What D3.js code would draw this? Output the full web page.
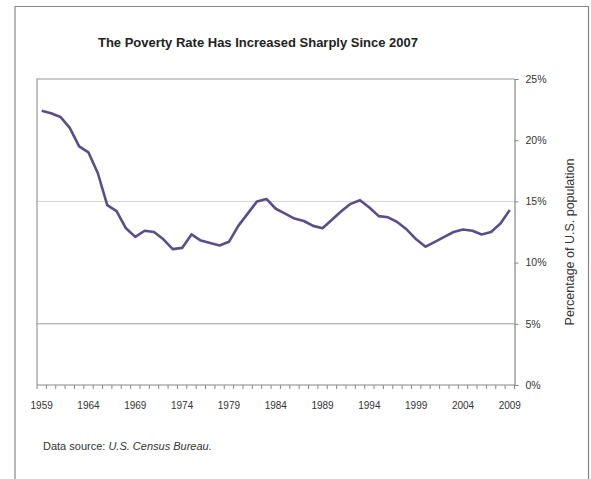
<!DOCTYPE html>
<html lang="en">
<head>
<meta charset="utf-8">
<title>Poverty Rate</title>
<script src="https://d3js.org/d3.v7.min.js"></script>
<style>
	body { margin: 0; background: #fff; font-family: "Liberation Sans", Arial, sans-serif; }
	svg text { fill: #222; }
</style>
</head>
<body>
<script>
// poverty rate, percent of U.S. population, 1959-2009
var years = d3.range(1959, 2010);
var rates = [22.4, 22.2, 21.9, 21.0, 19.5, 19.0, 17.3, 14.7, 14.2, 12.8,
	12.1, 12.6, 12.5, 11.9, 11.1, 11.2, 12.3, 11.8, 11.6, 11.4,
	11.7, 13.0, 14.0, 15.0, 15.2, 14.4, 14.0, 13.6, 13.4, 13.0,
	12.8, 13.5, 14.2, 14.8, 15.1, 14.5, 13.8, 13.7, 13.3, 12.7,
	11.9, 11.3, 11.7, 12.1, 12.5, 12.7, 12.6, 12.3, 12.5, 13.2, 14.3];
var yearLabels = [1959, 1964, 1969, 1974, 1979, 1984, 1989, 1994, 1999, 2004, 2009];
var pctTicks = [0, 5, 10, 15, 20, 25];
var gridLines = [5, 15];

var width = 591, height = 479;
var pLeft = 37, pRight = 514.5, pTop = 79, pBottom = 385;

var svg = d3.select("body").append("svg")
	.attr("width", width)
	.attr("height", height);

// outer frame (no bottom edge)
svg.append("path")
	.attr("d", "M15,479V6.5H588.5V479")
	.attr("fill", "none")
	.attr("stroke", "#888")
	.attr("stroke-width", 1.2);

var x = d3.scaleBand()
	.domain(years)
	.range([pLeft, pRight]);

var y = d3.scaleLinear()
	.domain([0, 25])
	.range([pBottom, pTop]);

// gridlines
svg.append("g").selectAll("line")
	.data(gridLines)
	.enter()
	.append("line")
	.attr("x1", pLeft)
	.attr("x2", pRight)
	.attr("y1", d => y(d))
	.attr("y2", d => y(d))
	.attr("stroke", d => d == 15 ? "#d4d4d4" : "#999")
	.attr("stroke-width", 1);

// plot border: top and left
svg.append("path")
	.attr("d", "M" + pRight + "," + pTop + "H" + pLeft + "V" + pBottom)
	.attr("fill", "none")
	.attr("stroke", "#999")
	.attr("stroke-width", 1.2);

// right value axis
var yAxis = svg.append("g")
	.attr("transform", "translate(" + pRight + ",0)")
	.call(d3.axisRight(y).tickValues(pctTicks).tickSize(4).tickPadding(7).tickFormat(d => d + "%"));
yAxis.select(".domain").attr("stroke", "#888").attr("stroke-width", 1.2);
yAxis.selectAll(".tick line").attr("stroke", "#888");
yAxis.selectAll("text")
	.attr("font-size", 10.5)
	.attr("font-family", "Liberation Sans, Arial, sans-serif")
	.style("fill", "#333");

// bottom category axis
var boundaries = years.map(d => x(d)).concat([pRight]);
var xAxis = svg.append("g");
xAxis.append("line")
	.attr("x1", pLeft).attr("x2", pRight)
	.attr("y1", pBottom).attr("y2", pBottom)
	.attr("stroke", "#888").attr("stroke-width", 1.2);
xAxis.selectAll(".tk")
	.data(boundaries)
	.enter()
	.append("line")
	.attr("class", "tk")
	.attr("x1", d => d).attr("x2", d => d)
	.attr("y1", pBottom).attr("y2", pBottom + 4)
	.attr("stroke", "#888");
xAxis.selectAll("text")
	.data(yearLabels)
	.enter()
	.append("text")
	.attr("x", d => x(d) + x.bandwidth() / 2)
	.attr("y", pBottom + 24)
	.attr("text-anchor", "middle")
	.attr("font-size", 10)
	.style("fill", "#333")
	.text(d => d);

// poverty line
var line = d3.line()
	.x((d, i) => x(years[i]) + x.bandwidth() / 2)
	.y(d => y(d));

svg.append("path")
	.datum(rates)
	.attr("d", line)
	.attr("fill", "none")
	.attr("stroke", "#5b4d8c")
	.attr("stroke-width", 2.6)
	.attr("stroke-linejoin", "round");

// title
svg.append("text")
	.attr("x", 258)
	.attr("y", 47)
	.attr("text-anchor", "middle")
	.attr("font-size", 13)
	.attr("font-weight", "bold")
	.text("The Poverty Rate Has Increased Sharply Since 2007");

// right axis title
svg.append("text")
	.attr("transform", "translate(574," + ((pTop + pBottom) / 2 + 10) + ") rotate(-90)")
	.attr("text-anchor", "middle")
	.attr("font-size", 12.5)
	.style("fill", "#333")
	.text("Percentage of U.S. population");

// source note
var note = svg.append("text")
	.attr("x", 43)
	.attr("y", 450)
	.attr("font-size", 11)
	.style("fill", "#333");
note.append("tspan").text("Data source: ");
note.append("tspan").attr("font-style", "italic").text("U.S. Census Bureau.");
</script>
</body>
</html>
